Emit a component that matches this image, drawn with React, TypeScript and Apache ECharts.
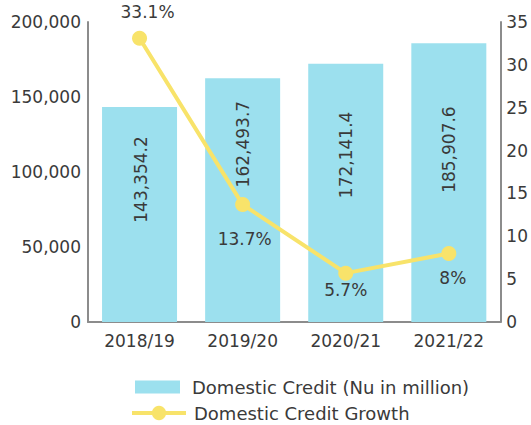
import React, { useEffect, useRef } from 'react';
import * as echarts from 'echarts';

const categories = ['2018/19', '2019/20', '2020/21', '2021/22'];
const creditValues = [143354.2, 162493.7, 172141.4, 185907.6];
const growthValues = [33.1, 13.7, 5.7, 8];
const creditName = 'Domestic Credit (Nu in million)';
const growthName = 'Domestic Credit Growth';

// label placement tweaks (style only; bar offsets are in the rotated label frame)
const barLabelOffsets = [[35, 1], [56, 0], [38, 0], [33, 0]];
const growthLabelOffsets = [[8, -26], [2, 34], [0, 17], [4, 25]];

const FONT = 'DejaVu Sans';
const TEXT = '#3a3a3a';
const BAR = '#9CE0EE';
const LINE = '#F8E36A';
const AXIS = '#8c8c8c';

export default function App() {
  const ref = useRef<HTMLDivElement>(null);
  useEffect(() => {
    document.body.style.margin = '0';
    if (!ref.current) return;
    const chart = echarts.init(ref.current, undefined, { renderer: 'svg' });
    const fmtNum = (v: number, d = 0) =>
      v.toLocaleString('en-US', { minimumFractionDigits: d, maximumFractionDigits: d });
    const legendText = { fontFamily: FONT, fontSize: 18, color: TEXT, lineHeight: 18 };
    chart.setOption({
      animation: false,
      textStyle: { fontFamily: FONT, color: TEXT },
      grid: { left: 88, right: 30, top: 22, bottom: 103, containLabel: false },
      legend: [
        {
          left: 135,
          top: 378,
          padding: 0,
          itemWidth: 45,
          itemHeight: 13,
          textStyle: { ...legendText, padding: [0, 0, 0, 7] },
          data: [{ name: creditName, icon: 'rect' }],
        },
        {
          left: 130,
          top: 404,
          padding: 0,
          itemWidth: 54,
          itemHeight: 18,
          lineStyle: { width: 4, color: LINE },
          textStyle: { ...legendText, padding: [0, 0, 0, 3] },
          data: [{ name: growthName }],
        },
      ],
      xAxis: {
        type: 'category',
        data: categories,
        axisLine: { lineStyle: { color: AXIS, width: 2 } },
        axisTick: { show: false },
        axisLabel: { fontFamily: FONT, fontSize: 17, color: TEXT, margin: 10 },
      },
      yAxis: [
        {
          type: 'value',
          min: 0,
          max: 200000,
          interval: 50000,
          axisLine: { show: true, lineStyle: { color: AXIS, width: 2 } },
          axisTick: { show: false },
          splitLine: { show: false },
          axisLabel: {
            fontFamily: FONT,
            fontSize: 17,
            color: TEXT,
            margin: 7,
            formatter: (v: number) => fmtNum(v),
          },
        },
        {
          type: 'value',
          position: 'right',
          min: 0,
          max: 35,
          interval: 5,
          axisLine: { show: true, lineStyle: { color: AXIS, width: 2 } },
          axisTick: { show: false },
          splitLine: { show: false },
          axisLabel: { fontFamily: FONT, fontSize: 17, color: TEXT, margin: 6 },
        },
      ],
      series: [
        {
          name: creditName,
          type: 'bar',
          yAxisIndex: 0,
          barWidth: 75,
          itemStyle: { color: BAR },
          data: creditValues.map((v, i) => ({
            value: v,
            label: { offset: barLabelOffsets[i] },
          })),
          label: {
            show: true,
            position: 'inside',
            rotate: 90,
            fontFamily: FONT,
            fontSize: 17,
            color: TEXT,
            formatter: (p: any) => fmtNum(p.value, 1),
          },
        },
        {
          name: growthName,
          type: 'line',
          yAxisIndex: 1,
          z: 5,
          symbol: 'circle',
          symbolSize: 15,
          lineStyle: { color: LINE, width: 4 },
          itemStyle: { color: LINE },
          data: growthValues.map((v, i) => ({
            value: v,
            label: { offset: growthLabelOffsets[i] },
          })),
          label: {
            show: true,
            position: 'inside',
            fontFamily: FONT,
            fontSize: 17,
            color: TEXT,
            formatter: (p: any) => `${p.value}%`,
          },
        },
      ],
    });
    return () => chart.dispose();
  }, []);
  return <div ref={ref} style={{ width: 531, height: 425 }} />;
}
